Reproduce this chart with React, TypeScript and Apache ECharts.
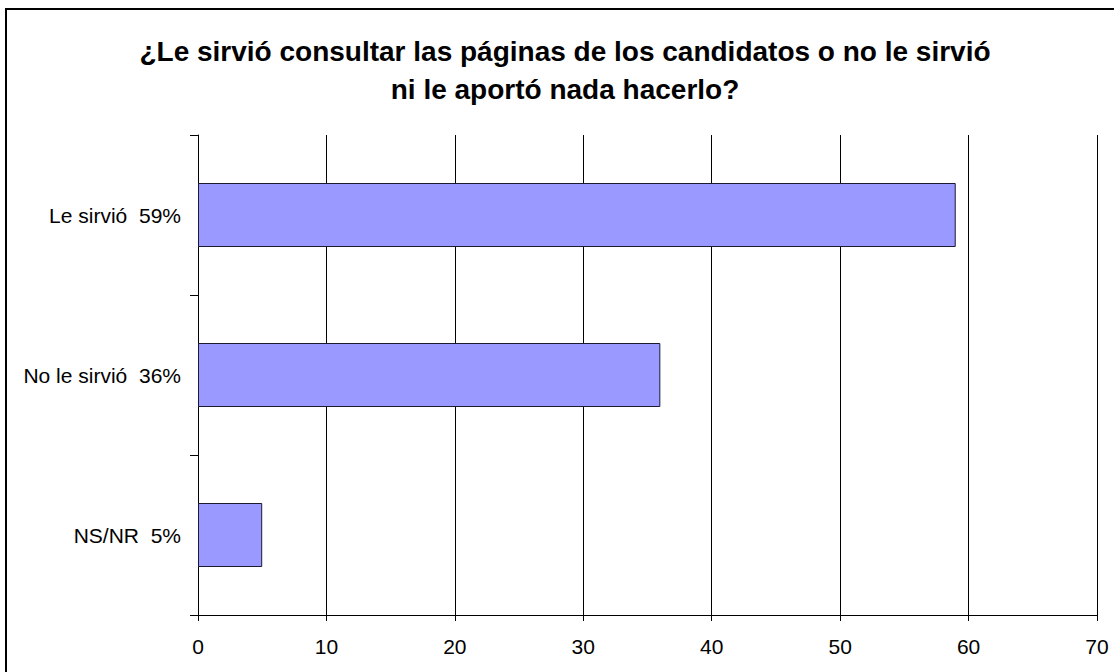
import React, { useEffect, useRef } from "react";
import * as echarts from "echarts";

const titleText = "¿Le sirvió consultar las páginas de los candidatos o no le sirvió\nni le aportó nada hacerlo?";
const categories = ["Le sirvió  59%", "No le sirvió  36%", "NS/NR  5%"];
const values = [59, 36, 5];
const axisMin = 0;
const axisMax = 70;
const axisInterval = 10;

export default function App() {
  const ref = useRef<HTMLDivElement>(null);
  useEffect(() => {
    if (!ref.current) return;
    const chart = echarts.init(ref.current, null, { renderer: "svg" });
    const font = "'Liberation Sans', Arial, sans-serif";
    chart.setOption({
      animation: false,
      backgroundColor: "#ffffff",
      title: {
        text: titleText,
        left: 560,
        textAlign: "center",
        top: 27,
        textStyle: {
          fontFamily: font,
          fontWeight: "bold",
          fontSize: 28,
          lineHeight: 38,
          color: "#000",
        },
      },
      graphic: [
        {
          type: "rect",
          shape: { x: 6, y: 9, width: 1130, height: 700 },
          style: { fill: "none", stroke: "#000", lineWidth: 2 },
          silent: true,
        },
      ],
      grid: { left: 198, right: 17, top: 135, bottom: 57, containLabel: false },
      xAxis: {
        type: "value",
        min: axisMin,
        max: axisMax,
        interval: axisInterval,
        axisLine: { show: true, lineStyle: { color: "#000", width: 1 } },
        axisTick: { show: true, length: 6, lineStyle: { color: "#000" } },
        axisLabel: { fontFamily: font, fontSize: 21, color: "#000", margin: 21 },
        splitLine: { show: true, lineStyle: { color: "#000", width: 1 } },
      },
      yAxis: {
        type: "category",
        data: categories,
        inverse: true,
        axisLine: { show: true, lineStyle: { color: "#000", width: 1 } },
        axisTick: { show: true, length: 8, lineStyle: { color: "#000" } },
        axisLabel: { fontFamily: font, fontSize: 21, color: "#000", margin: 17 },
      },
      series: [
        {
          type: "bar",
          data: values,
          barCategoryGap: "60%",
          itemStyle: { color: "#9999ff", borderColor: "#1a1a33", borderWidth: 1 },
        },
      ],
    });
    return () => chart.dispose();
  }, []);
  return (
    <div
      ref={ref}
      style={{ position: "absolute", left: 0, top: 0, width: 1114, height: 672 }}
    />
  );
}
